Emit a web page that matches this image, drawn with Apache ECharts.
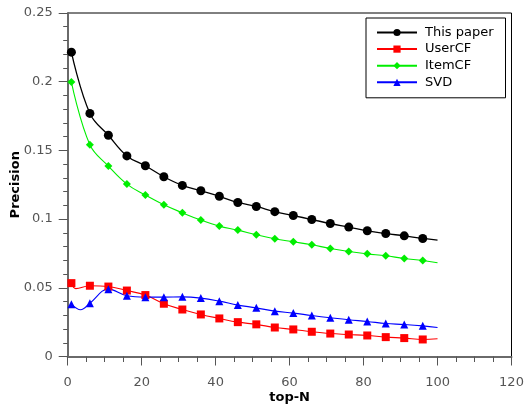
<!DOCTYPE html>
<html>
<head>
<meta charset="utf-8">
<script src="https://cdn.jsdelivr.net/npm/echarts@6/dist/echarts.min.js"></script>
<style>html,body{margin:0;padding:0;background:#fff}#c{width:526px;height:405px}</style>
</head>
<body>
<div id="c"></div>
<script>
// x positions of the plotted points (last point at 100 has no marker)
const topN = [1, 6, 11, 16, 21, 26, 31, 36, 41, 46, 51, 56, 61, 66, 71, 76, 81, 86, 91, 96, 100];
const thisPaper = [0.2215, 0.1769, 0.161, 0.146, 0.1388, 0.1308, 0.1245, 0.1206, 0.1166, 0.1121, 0.1092, 0.1054, 0.1026, 0.0997, 0.0968, 0.0942, 0.0915, 0.0895, 0.0878, 0.0859, 0.0847];
const userCF = [0.0534, 0.0515, 0.0509, 0.048, 0.0447, 0.0384, 0.0342, 0.0306, 0.0277, 0.025, 0.0234, 0.0211, 0.0197, 0.018, 0.0167, 0.016, 0.0153, 0.0141, 0.0134, 0.0124, 0.0129];
const itemCF = [0.1997, 0.1541, 0.1386, 0.1255, 0.1175, 0.1104, 0.1046, 0.0993, 0.0949, 0.092, 0.0886, 0.0857, 0.0835, 0.0813, 0.0786, 0.0764, 0.0747, 0.0733, 0.0713, 0.0699, 0.0682];
const svd = [0.0381, 0.0388, 0.049, 0.0442, 0.0432, 0.0432, 0.0434, 0.0425, 0.0403, 0.0374, 0.0354, 0.033, 0.0316, 0.0298, 0.0282, 0.0267, 0.0255, 0.024, 0.0233, 0.0223, 0.0211];
// extra curve points (no marker)
const userCFExtra = [[2.2, 0.0494]];
const svdExtra = [[3.5, 0.0340]];
const xTicks = [0, 20, 40, 60, 80, 100, 120];
const yTicks = [0, 0.05, 0.1, 0.15, 0.2, 0.25];
const names = ['This paper', 'UserCF', 'ItemCF', 'SVD'];

function build(vals, extra) {
  const pts = topN.map((x, i) => (x === 100 ? { value: [x, vals[i]], symbol: 'none' } : { value: [x, vals[i]] }));
  (extra || []).forEach(p => pts.push({ value: p, symbol: 'none' }));
  pts.sort((a, b) => a.value[0] - b.value[0]);
  return pts;
}

const FONT = 'DejaVu Sans';
const chart = echarts.init(document.getElementById('c'), null, { renderer: 'canvas' });
function mk(name, color, symbol, size, vals, extra, lw) {
  return {
    name, type: 'line', data: build(vals, extra), smooth: 0.4,
    symbol, symbolSize: size, color,
    lineStyle: { color, width: lw },
    itemStyle: { color },
    animation: false
  };
}
chart.setOption({
  animation: false,
  textStyle: { fontFamily: FONT },
  grid: { left: 67.7, right: 14.5, top: 13, bottom: 48.5, outerBoundsMode: 'none', containLabel: false, show: true, borderColor: '#000', borderWidth: 1, backgroundColor: 'transparent' },
  legend: {
    data: names, orient: 'vertical', left: 366, top: 18,
    padding: [8, 12, 9, 10], borderColor: '#000', borderWidth: 1,
    itemWidth: 40, itemHeight: 9, itemGap: 3.6,
    textStyle: { fontFamily: FONT, fontSize: 13, color: '#000', padding: [0, 0, 0, 3] }
  },
  xAxis: {
    type: 'value', min: xTicks[0], max: xTicks[xTicks.length - 1], interval: 20,
    name: 'top-N', nameLocation: 'middle', nameGap: 35, nameMoveOverlap: false,
    nameTextStyle: { fontFamily: FONT, fontSize: 13, fontWeight: 'bold', color: '#000' },
    axisLine: { show: true, lineStyle: { color: '#6a6a6a', width: 2 } },
    axisTick: { show: true, inside: false, length: 9, lineStyle: { color: '#555' } },
    minorTick: { show: true, splitNumber: 4, length: 5.5, lineStyle: { color: '#555' } },
    splitLine: { show: false },
    axisLabel: { fontFamily: FONT, fontSize: 13, color: '#555', margin: 20 }
  },
  yAxis: {
    type: 'value', min: yTicks[0], max: yTicks[yTicks.length - 1], interval: 0.05,
    name: 'Precision', nameLocation: 'middle', nameGap: 46, nameMoveOverlap: false,
    nameTextStyle: { fontFamily: FONT, fontSize: 13, fontWeight: 'bold', color: '#000' },
    axisLine: { show: true, lineStyle: { color: '#6a6a6a', width: 2 } },
    axisTick: { show: true, inside: false, length: 9, lineStyle: { color: '#555' } },
    minorTick: { show: true, splitNumber: 5, length: 4.5, lineStyle: { color: '#555' } },
    splitLine: { show: false },
    axisLabel: { fontFamily: FONT, fontSize: 13, color: '#555', margin: 15 }
  },
  series: [
    mk(names[0], '#000000', 'circle', 9, thisPaper, null, 1.3),
    mk(names[1], '#ff0000', 'rect', 8, userCF, userCFExtra, 1.1),
    mk(names[2], '#00ee00', 'diamond', 8, itemCF, null, 1.1),
    mk(names[3], '#0000ff', 'triangle', 8, svd, svdExtra, 1.1)
  ]
});
</script>
</body>
</html>
